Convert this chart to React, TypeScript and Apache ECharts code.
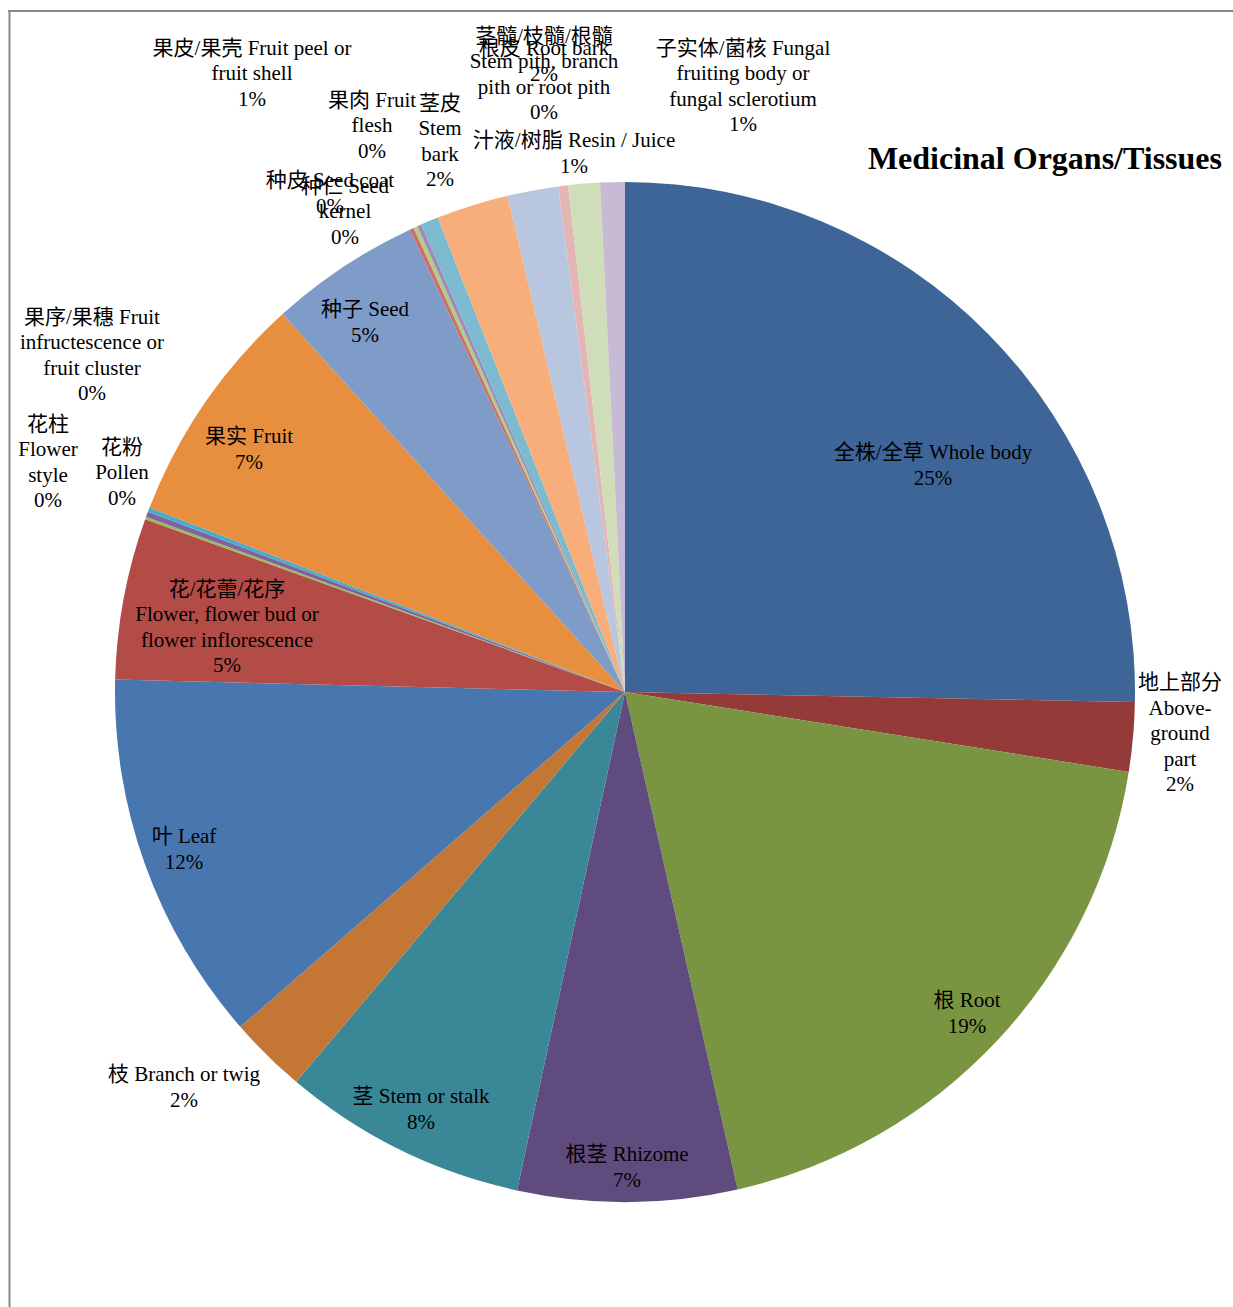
import React, { useEffect, useRef } from "react";
import * as echarts from "echarts";

const categories = [
  "全株/全草 Whole body",
  "地上部分 Above-ground part",
  "根 Root",
  "根茎 Rhizome",
  "茎 Stem or stalk",
  "枝 Branch or twig",
  "叶 Leaf",
  "花/花蕾/花序 Flower, flower bud or flower inflorescence",
  "花粉 Pollen",
  "花柱 Flower style",
  "果序/果穗 Fruit infructescence or fruit cluster",
  "果实 Fruit",
  "种子 Seed",
  "种仁 Seed kernel",
  "种皮 Seed coat",
  "果肉 Fruit flesh",
  "果皮/果壳 Fruit peel or fruit shell",
  "茎皮 Stem bark",
  "根皮 Root bark",
  "茎髓/枝髓/根髓 Stem pith, branch pith or root pith",
  "汁液/树脂 Resin / Juice",
  "子实体/菌核 Fungal fruiting body or fungal sclerotium",
];

const wrappedLabels = [
  "全株/全草 Whole body",
  "地上部分\nAbove-\nground\npart",
  "根 Root",
  "根茎 Rhizome",
  "茎 Stem or stalk",
  "枝 Branch or twig",
  "叶 Leaf",
  "花/花蕾/花序\nFlower, flower bud or\nflower inflorescence",
  "花粉\nPollen",
  "花柱\nFlower\nstyle",
  "果序/果穗 Fruit\ninfructescence or\nfruit cluster",
  "果实 Fruit",
  "种子 Seed",
  "种仁 Seed\nkernel",
  "种皮 Seed coat",
  "果肉 Fruit\nflesh",
  "果皮/果壳 Fruit peel or\nfruit shell",
  "茎皮\nStem\nbark",
  "根皮 Root bark",
  "茎髓/枝髓/根髓\nStem pith, branch\npith or root pith",
  "汁液/树脂 Resin / Juice",
  "子实体/菌核 Fungal\nfruiting body or\nfungal sclerotium",
];

const values = [
  25.3, 2.19, 18.94, 6.94, 7.75, 2.45, 11.78, 5.11, 0.08, 0.17, 0.14, 7.39,
  4.78, 0.13, 0.13, 0.13, 0.56, 2.28, 1.61, 0.31, 1.0, 0.78,
];

const colors = [
  "#3D6597", "#943B3A", "#7A9542", "#604B7E", "#3A8798", "#C47635",
  "#4876AF", "#B34B47", "#9BBB59", "#7F62A1", "#4AACC5", "#E88E3F",
  "#7F9BC8", "#C8706F", "#B3CB83", "#9E8BBB", "#7BBACF", "#F7AE7A",
  "#B8C6E0", "#E3B6B5", "#D0DDB9", "#C6BAD4",
];

const labelPos: [number, number][] = [
  [933, 465], [1180, 733], [967, 1013], [627, 1167], [421, 1109], [184, 1087],
  [184, 849], [227, 627], [122, 472], [48, 462], [92, 355], [249, 449],
  [365, 322], [345, 211], [330, 193], [372, 125], [252, 73], [440, 141],
  [544, 61], [544, 74], [574, 153], [743, 86],
];

const FONT = "'Liberation Serif', 'Times New Roman', 'Noto Sans CJK SC', serif";

export default function App() {
  const ref = useRef<HTMLDivElement>(null);
  useEffect(() => {
    document.body.style.margin = "0";
    const chart = echarts.init(ref.current!, null, { renderer: "svg" });
    const total = values.reduce((a, b) => a + b, 0);
    chart.setOption({
      animation: false,
      backgroundColor: "#ffffff",
      title: {
        text: "Medicinal Organs/Tissues",
        right: 6,
        top: 137,
        textStyle: { fontFamily: FONT, fontSize: 32, fontWeight: "bold", color: "#000" },
      },
      graphic: [
        { type: "line", shape: { x1: 8, y1: 11, x2: 1233, y2: 11 }, style: { stroke: "#898989", lineWidth: 2 } },
        { type: "line", shape: { x1: 9.5, y1: 10, x2: 9.5, y2: 1307 }, style: { stroke: "#898989", lineWidth: 2 } },
      ],
      series: [
        {
          type: "pie",
          center: [625, 692],
          radius: 510,
          startAngle: 90,
          clockwise: true,
          avoidLabelOverlap: false,
          emphasis: { disabled: true },
          itemStyle: { borderWidth: 0 },
          data: values.map((v, i) => ({
            name: categories[i],
            value: v,
            itemStyle: { color: colors[i] },
          })),
          label: {
            show: true,
            position: "inside",
            color: "#000",
            fontFamily: FONT,
            fontSize: 21,
            lineHeight: 25.5,
            align: "center",
            formatter: (p: any) =>
              wrappedLabels[p.dataIndex] + "\n" + Math.round((p.value / total) * 100) + "%",
          },
          labelLine: { show: false },
          labelLayout: (p: any) => ({
            x: labelPos[p.dataIndex][0],
            y: labelPos[p.dataIndex][1],
            align: "center",
            verticalAlign: "middle",
          }),
        },
      ],
    });
    return () => chart.dispose();
  }, []);
  return <div ref={ref} style={{ width: 1233, height: 1307, overflow: "hidden" }} />;
}
